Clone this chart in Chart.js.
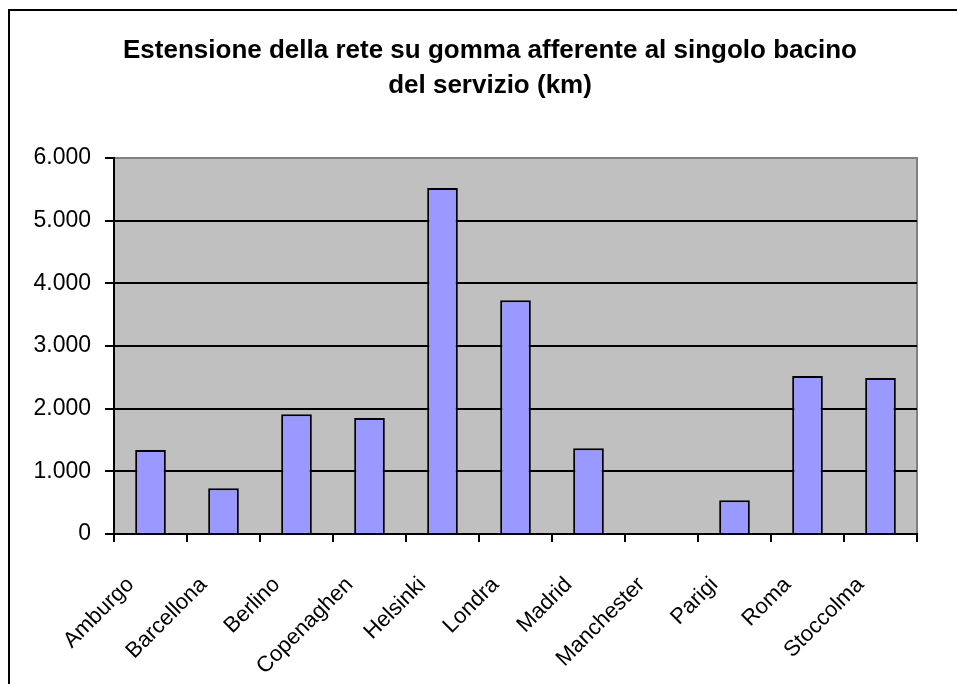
<!DOCTYPE html>
<html>
<head>
<meta charset="utf-8">
<script src="https://cdn.jsdelivr.net/npm/chart.js@4.4.1/dist/chart.umd.min.js"></script>
<style>
  html, body { margin: 0; padding: 0; background: #fff; }
  #wrap { width: 957px; height: 684px; }
</style>
</head>
<body>
<div id="wrap"><canvas id="chart"></canvas></div>
<script>
// -------------------------------
// Data
// -------------------------------
const cities = ["Amburgo", "Barcellona", "Berlino", "Copenaghen", "Helsinki",
  "Londra", "Madrid", "Manchester", "Parigi", "Roma", "Stoccolma"];
const kmValues = [1340, 730, 1910, 1850, 5520, 3730, 1370, null, 540, 2520, 2490];
const titleLines = ["Estensione della rete su gomma afferente al singolo bacino", "del servizio (km)"];
const yMax = 6000;
const yStep = 1000;

const FONT = "Liberation Sans, Arial, sans-serif";

// thousands with a dot, as in the original
function fmt(v) {
  return String(v).replace(/\B(?=(\d{3})+(?!\d))/g, ".");
}

// -------------------------------
// Grey plot area, outer frame, title
// -------------------------------
const frame = {
  id: "frame",
  beforeDraw(chart) {
    const { ctx, chartArea: a } = chart;
    ctx.save();
    ctx.fillStyle = "#fff";
    ctx.fillRect(0, 0, chart.width, chart.height);
    ctx.fillStyle = "#C0C0C0";
    ctx.fillRect(a.left, a.top, a.right - a.left, a.bottom - a.top);
    ctx.strokeStyle = "#808080";
    ctx.lineWidth = 2;
    ctx.strokeRect(a.left, a.top, a.right - a.left, a.bottom - a.top);

    // outer frame (runs off the right and bottom edges)
    ctx.strokeStyle = "#000";
    ctx.lineWidth = 2;
    ctx.beginPath();
    ctx.moveTo(9, chart.height + 5);
    ctx.lineTo(9, 10);
    ctx.lineTo(chart.width + 5, 10);
    ctx.stroke();

    // title
    ctx.fillStyle = "#000";
    ctx.font = "bold 26px " + FONT;
    ctx.textAlign = "center";
    ctx.textBaseline = "alphabetic";
    ctx.fillText(titleLines[0], 490, 58);
    ctx.fillText(titleLines[1], 490, 93);
    ctx.restore();
  }
};

const ctx = document.getElementById("chart").getContext("2d");
new Chart(ctx, {
  type: "bar",
  data: {
    labels: cities,
    datasets: [{
      data: kmValues,
      backgroundColor: "#9999FF",
      borderColor: "#000",
      borderWidth: 2,
      categoryPercentage: 1,
      barPercentage: 0.42
    }]
  },
  options: {
    responsive: true,
    maintainAspectRatio: false,
    animation: false,
    layout: { padding: { left: 10, right: 40, top: 158, bottom: 0 } },
    plugins: {
      legend: { display: false },
      tooltip: { enabled: false },
      title: { display: false }
    },
    scales: {
      x: {
        grid: {
          offset: true,
          drawOnChartArea: false,
          color: "#000",
          lineWidth: 2,
          tickLength: 8
        },
        border: { color: "#000", width: 2 },
        ticks: {
          color: "#000",
          font: { family: FONT, size: 22 },
          maxRotation: 45,
          minRotation: 45,
          autoSkip: false,
          padding: 30,
          labelOffset: -20
        },
        afterFit(scale) { scale.height = 150; }
      },
      y: {
        min: 0,
        max: yMax,
        ticks: {
          stepSize: yStep,
          color: "#000",
          font: { family: FONT, size: 23 },
          padding: 14,
          callback: (v) => fmt(v)
        },
        grid: {
          color: (c) => (c.tick && c.tick.value === yMax ? "#808080" : "#000"),
          lineWidth: 2,
          tickLength: 9,
          tickColor: "#000"
        },
        border: { color: "#000", width: 2 },
        afterFit(scale) { scale.width = 104; }
      }
    }
  },
  plugins: [frame]
});
</script>
</body>
</html>
